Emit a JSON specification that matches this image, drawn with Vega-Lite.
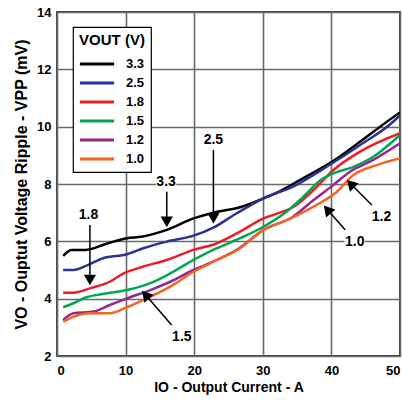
{
  "$schema": "https://vega.github.io/schema/vega-lite/v6.json",
  "width": 343,
  "height": 344,
  "autosize": {"type": "none"},
  "padding": {"left": 57, "top": 12, "right": 2, "bottom": 49},
  "background": "white",
  "config": {
    "font": "Liberation Sans",
    "view": {"stroke": "#000000", "strokeWidth": 1.5},
    "axis": {
      "grid": true,
      "gridColor": "#6a6a6a",
      "gridWidth": 1.6,
      "ticks": false,
      "domain": false,
      "labelFont": "Liberation Sans",
      "labelFontWeight": "bold",
      "labelFontSize": 13,
      "labelColor": "#000000",
      "titleFont": "Liberation Sans",
      "titleFontWeight": "bold",
      "titleFontSize": 14,
      "titleColor": "#000000"
    },
    "legend": {
      "orient": "none",
      "legendX": 16,
      "legendY": 15,
      "fillColor": "white",
      "strokeColor": "#000000",
      "strokeWidth": 1.2,
      "padding": 6,
      "titleFont": "Liberation Sans",
      "titleFontWeight": "bold",
      "titleFontSize": 15,
      "titleColor": "#000000",
      "titleAnchor": "middle",
      "titlePadding": 6,
      "labelFont": "Liberation Sans",
      "labelFontWeight": "bold",
      "labelFontSize": 13,
      "labelColor": "#000000",
      "labelOffset": 19,
      "symbolType": "M-2.1,0H2.1",
      "symbolSize": 265,
      "symbolOffset": 8,
      "symbolStrokeWidth": 3,
      "rowPadding": 2
    }
  },
  "datasets": {
    "curves": [
      {"I": 0.9, "V": 5.49, "s": "3.3"}, {"I": 2.1, "V": 5.7, "s": "3.3"}, {"I": 4.1, "V": 5.7, "s": "3.3"}, {"I": 7.0, "V": 5.9, "s": "3.3"}, {"I": 10.2, "V": 6.11, "s": "3.3"}, {"I": 12.3, "V": 6.16, "s": "3.3"}, {"I": 16.0, "V": 6.4, "s": "3.3"}, {"I": 19.9, "V": 6.8, "s": "3.3"}, {"I": 22.8, "V": 7.0, "s": "3.3"}, {"I": 26.7, "V": 7.19, "s": "3.3"}, {"I": 30.1, "V": 7.5, "s": "3.3"}, {"I": 32.8, "V": 7.79, "s": "3.3"}, {"I": 35.4, "V": 8.14, "s": "3.3"}, {"I": 40.3, "V": 8.81, "s": "3.3"}, {"I": 44.2, "V": 9.48, "s": "3.3"}, {"I": 47.1, "V": 10.0, "s": "3.3"}, {"I": 50.0, "V": 10.5, "s": "3.3"},
      {"I": 0.9, "V": 5.0, "s": "2.5"}, {"I": 2.4, "V": 5.0, "s": "2.5"}, {"I": 4.3, "V": 5.15, "s": "2.5"}, {"I": 6.7, "V": 5.41, "s": "2.5"}, {"I": 10.2, "V": 5.55, "s": "2.5"}, {"I": 12.6, "V": 5.76, "s": "2.5"}, {"I": 16.0, "V": 5.99, "s": "2.5"}, {"I": 19.9, "V": 6.2, "s": "2.5"}, {"I": 22.8, "V": 6.48, "s": "2.5"}, {"I": 26.2, "V": 6.98, "s": "2.5"}, {"I": 30.1, "V": 7.5, "s": "2.5"}, {"I": 34.4, "V": 7.91, "s": "2.5"}, {"I": 39.3, "V": 8.6, "s": "2.5"}, {"I": 44.2, "V": 9.36, "s": "2.5"}, {"I": 49.0, "V": 10.17, "s": "2.5"}, {"I": 50.0, "V": 10.4, "s": "2.5"},
      {"I": 0.9, "V": 4.21, "s": "1.8"}, {"I": 2.4, "V": 4.21, "s": "1.8"}, {"I": 4.8, "V": 4.36, "s": "1.8"}, {"I": 7.7, "V": 4.59, "s": "1.8"}, {"I": 9.7, "V": 4.88, "s": "1.8"}, {"I": 12.6, "V": 5.12, "s": "1.8"}, {"I": 16.0, "V": 5.35, "s": "1.8"}, {"I": 19.9, "V": 5.7, "s": "1.8"}, {"I": 23.3, "V": 5.93, "s": "1.8"}, {"I": 26.7, "V": 6.34, "s": "1.8"}, {"I": 30.1, "V": 6.8, "s": "1.8"}, {"I": 32.5, "V": 7.0, "s": "1.8"}, {"I": 34.4, "V": 7.19, "s": "1.8"}, {"I": 37.4, "V": 7.79, "s": "1.8"}, {"I": 40.3, "V": 8.49, "s": "1.8"}, {"I": 44.2, "V": 9.13, "s": "1.8"}, {"I": 50.0, "V": 9.77, "s": "1.8"},
      {"I": 0.9, "V": 3.7, "s": "1.5"}, {"I": 2.4, "V": 3.84, "s": "1.5"}, {"I": 4.3, "V": 4.05, "s": "1.5"}, {"I": 6.7, "V": 4.16, "s": "1.5"}, {"I": 10.2, "V": 4.3, "s": "1.5"}, {"I": 13.6, "V": 4.54, "s": "1.5"}, {"I": 16.5, "V": 4.88, "s": "1.5"}, {"I": 19.9, "V": 5.35, "s": "1.5"}, {"I": 23.3, "V": 5.76, "s": "1.5"}, {"I": 26.7, "V": 6.11, "s": "1.5"}, {"I": 30.1, "V": 6.51, "s": "1.5"}, {"I": 33.0, "V": 6.95, "s": "1.5"}, {"I": 35.4, "V": 7.44, "s": "1.5"}, {"I": 38.8, "V": 8.2, "s": "1.5"}, {"I": 40.3, "V": 8.37, "s": "1.5"}, {"I": 43.2, "V": 8.6, "s": "1.5"}, {"I": 46.1, "V": 8.95, "s": "1.5"}, {"I": 50.0, "V": 9.71, "s": "1.5"},
      {"I": 0.9, "V": 3.26, "s": "1.2"}, {"I": 2.4, "V": 3.49, "s": "1.2"}, {"I": 5.3, "V": 3.55, "s": "1.2"}, {"I": 7.7, "V": 3.78, "s": "1.2"}, {"I": 10.2, "V": 4.01, "s": "1.2"}, {"I": 13.6, "V": 4.3, "s": "1.2"}, {"I": 16.5, "V": 4.59, "s": "1.2"}, {"I": 19.9, "V": 5.0, "s": "1.2"}, {"I": 23.3, "V": 5.35, "s": "1.2"}, {"I": 26.2, "V": 5.7, "s": "1.2"}, {"I": 30.1, "V": 6.4, "s": "1.2"}, {"I": 34.4, "V": 6.86, "s": "1.2"}, {"I": 37.4, "V": 7.44, "s": "1.2"}, {"I": 40.3, "V": 7.97, "s": "1.2"}, {"I": 42.7, "V": 8.43, "s": "1.2"}, {"I": 46.1, "V": 8.84, "s": "1.2"}, {"I": 50.0, "V": 9.42, "s": "1.2"},
      {"I": 0.9, "V": 3.2, "s": "1.0"}, {"I": 2.4, "V": 3.37, "s": "1.0"}, {"I": 4.8, "V": 3.49, "s": "1.0"}, {"I": 7.7, "V": 3.49, "s": "1.0"}, {"I": 10.2, "V": 3.7, "s": "1.0"}, {"I": 13.1, "V": 4.01, "s": "1.0"}, {"I": 16.5, "V": 4.42, "s": "1.0"}, {"I": 19.9, "V": 4.94, "s": "1.0"}, {"I": 23.3, "V": 5.35, "s": "1.0"}, {"I": 26.7, "V": 5.76, "s": "1.0"}, {"I": 30.1, "V": 6.4, "s": "1.0"}, {"I": 33.5, "V": 6.74, "s": "1.0"}, {"I": 37.4, "V": 7.21, "s": "1.0"}, {"I": 40.8, "V": 7.73, "s": "1.0"}, {"I": 43.2, "V": 8.31, "s": "1.0"}, {"I": 46.6, "V": 8.66, "s": "1.0"}, {"I": 50.0, "V": 8.9, "s": "1.0"}
    ],
    "notes": [
      {"label": "3.3", "tx": 15.9, "ty": 8.08, "x1": 16.0, "y1": 7.73, "x2": 16.0, "y2": 6.68, "angle": 180},
      {"label": "2.5", "tx": 22.8, "ty": 9.54, "x1": 22.8, "y1": 9.19, "x2": 22.8, "y2": 6.8, "angle": 180},
      {"label": "1.8", "tx": 4.6, "ty": 6.92, "x1": 4.8, "y1": 6.57, "x2": 4.8, "y2": 4.65, "angle": 180},
      {"label": "1.5", "tx": 18.2, "ty": 2.67, "x1": 16.7, "y1": 3.08, "x2": 12.9, "y2": 4.14, "angle": 319},
      {"label": "1.2", "tx": 47.3, "ty": 6.86, "x1": 45.9, "y1": 7.27, "x2": 42.8, "y2": 8.01, "angle": 316},
      {"label": "1.0", "tx": 43.4, "ty": 5.97, "x1": 42.0, "y1": 6.4, "x2": 39.4, "y2": 7.11, "angle": 319}
    ]
  },
  "layer": [
    {
      "data": {"name": "curves"},
      "mark": {"type": "line", "strokeWidth": 2.5, "interpolate": "monotone", "clip": true},
      "encoding": {
        "x": {"field": "I", "type": "quantitative", "scale": {"domain": [0, 50], "nice": false}, "axis": {"values": [0, 10, 20, 30, 40, 50], "labelPadding": 8, "title": "IO - Output Current - A", "titlePadding": 3}},
        "y": {"field": "V", "type": "quantitative", "scale": {"domain": [2, 14], "nice": false}, "axis": {"values": [2, 4, 6, 8, 10, 12, 14], "labelPadding": 6, "title": "VO - Ouptut Voltage Ripple - VPP (mV)", "titlePadding": 7, "titleFontSize": 16}},
        "color": {"field": "s", "type": "nominal", "scale": {"domain": ["3.3", "2.5", "1.8", "1.5", "1.2", "1.0"], "range": ["#000000", "#2e3192", "#ed1c24", "#00a651", "#92278f", "#f26522"]}, "legend": {"title": "VOUT (V)"}}
      }
    },
    {
      "data": {"name": "notes"},
      "mark": {"type": "square", "size": 420, "filled": true, "color": "white", "opacity": 1},
      "encoding": {"x": {"field": "tx", "type": "quantitative"}, "y": {"field": "ty", "type": "quantitative"}}
    },
    {
      "data": {"name": "notes"},
      "mark": {"type": "rule", "color": "black", "strokeWidth": 1.5},
      "encoding": {"x": {"field": "x1", "type": "quantitative"}, "y": {"field": "y1", "type": "quantitative"}, "x2": {"field": "x2"}, "y2": {"field": "y2"}}
    },
    {
      "data": {"name": "notes"},
      "mark": {"type": "point", "shape": "triangle-up", "size": 150, "filled": true, "color": "black", "opacity": 1},
      "encoding": {"x": {"field": "x2", "type": "quantitative"}, "y": {"field": "y2", "type": "quantitative"}, "angle": {"field": "angle", "type": "quantitative", "scale": null}}
    },
    {
      "data": {"name": "notes"},
      "mark": {"type": "text", "font": "Liberation Sans", "fontWeight": "bold", "fontSize": 14, "color": "black", "baseline": "middle", "align": "center"},
      "encoding": {"x": {"field": "tx", "type": "quantitative"}, "y": {"field": "ty", "type": "quantitative"}, "text": {"field": "label"}}
    }
  ]
}
